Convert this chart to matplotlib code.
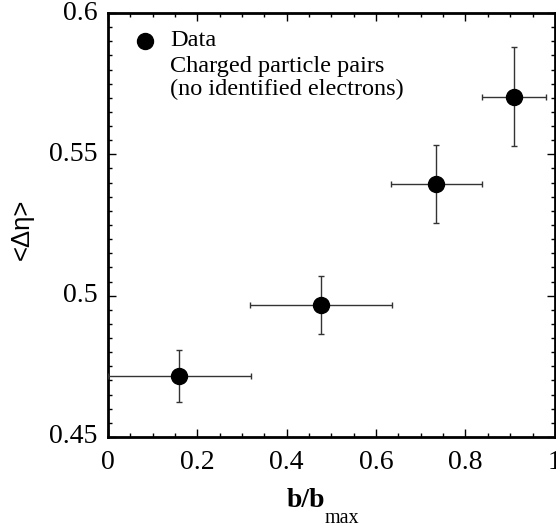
import matplotlib
matplotlib.use("Agg")
import matplotlib.pyplot as plt
from matplotlib.ticker import MultipleLocator

x = [0.160, 0.476, 0.735, 0.909]
y = [0.4716, 0.4966, 0.5396, 0.5704]
xerr = [0.160, 0.159, 0.102, 0.072]
yerr = [0.0091, 0.0102, 0.0138, 0.0175]

xt = [0, 0.2, 0.4, 0.6, 0.8, 1]
xtl = ['0', '0.2', '0.4', '0.6', '0.8', '1']
yt = [0.45, 0.5, 0.55, 0.6]
ytl = ['0.45', '0.5', '0.55', '0.6']
legend_lines = ['Data', 'Charged particle pairs', '(no identified electrons)']

fig = plt.figure(figsize=(5.56, 5.27), dpi=100)
ax = fig.add_axes([0.194, 0.1708, 0.804, 0.8045])

ax.errorbar(x, y, xerr=xerr, yerr=yerr, fmt='o', color='black', ms=11.5,
            ecolor='#333333', elinewidth=1.0, capsize=2.5, capthick=1.0, zorder=3)

ax.set_xlim(0, 1)
ax.set_ylim(0.45, 0.6)
ax.xaxis.set_major_locator(MultipleLocator(0.2))
ax.xaxis.set_minor_locator(MultipleLocator(0.05))
ax.yaxis.set_major_locator(MultipleLocator(0.05))
ax.yaxis.set_minor_locator(MultipleLocator(0.005))
ax.tick_params(which='both', direction='in', top=True, right=True, width=1.0,
               labelbottom=False, labelleft=False)
ax.tick_params(which='major', length=6)
ax.tick_params(which='minor', length=3)
for s in ax.spines.values():
    s.set_linewidth(2.0)

for v, l in zip(xt, xtl):
    ax.text(v, -0.03, l, transform=ax.get_xaxis_transform(), ha='center', va='top',
            family='Liberation Serif', fontsize=20)
for v, l in zip(yt, ytl):
    ax.text(-0.024, v, l, transform=ax.get_yaxis_transform(), ha='right', va='center',
            family='Liberation Serif', fontsize=20)

# x label: b/b_max
fig.text(325/556, 1-507/527, 'b/b', ha='right', va='baseline',
         family='Liberation Serif', weight='bold', fontsize=20)
fig.text(325/556, 1-523/527, 'max', ha='left', va='baseline',
         family='Liberation Serif', fontsize=14.5)
# y label
fig.text(22/556, 1-229/527, '<\u0394\u03b7>', rotation=90, ha='center', va='center',
         family='Liberation Sans', fontsize=18.5)

# legend
ax.plot([0.083], [0.5901], 'o', color='black', ms=11.5, clip_on=False)
lx = 0.139
for ly, t in zip([0.5901, 0.5812, 0.5728], legend_lines):
    ax.text(lx, ly, t, ha='left', va='center', family='Liberation Serif', fontsize=17.5)

fig.savefig('out.png', dpi=100)
